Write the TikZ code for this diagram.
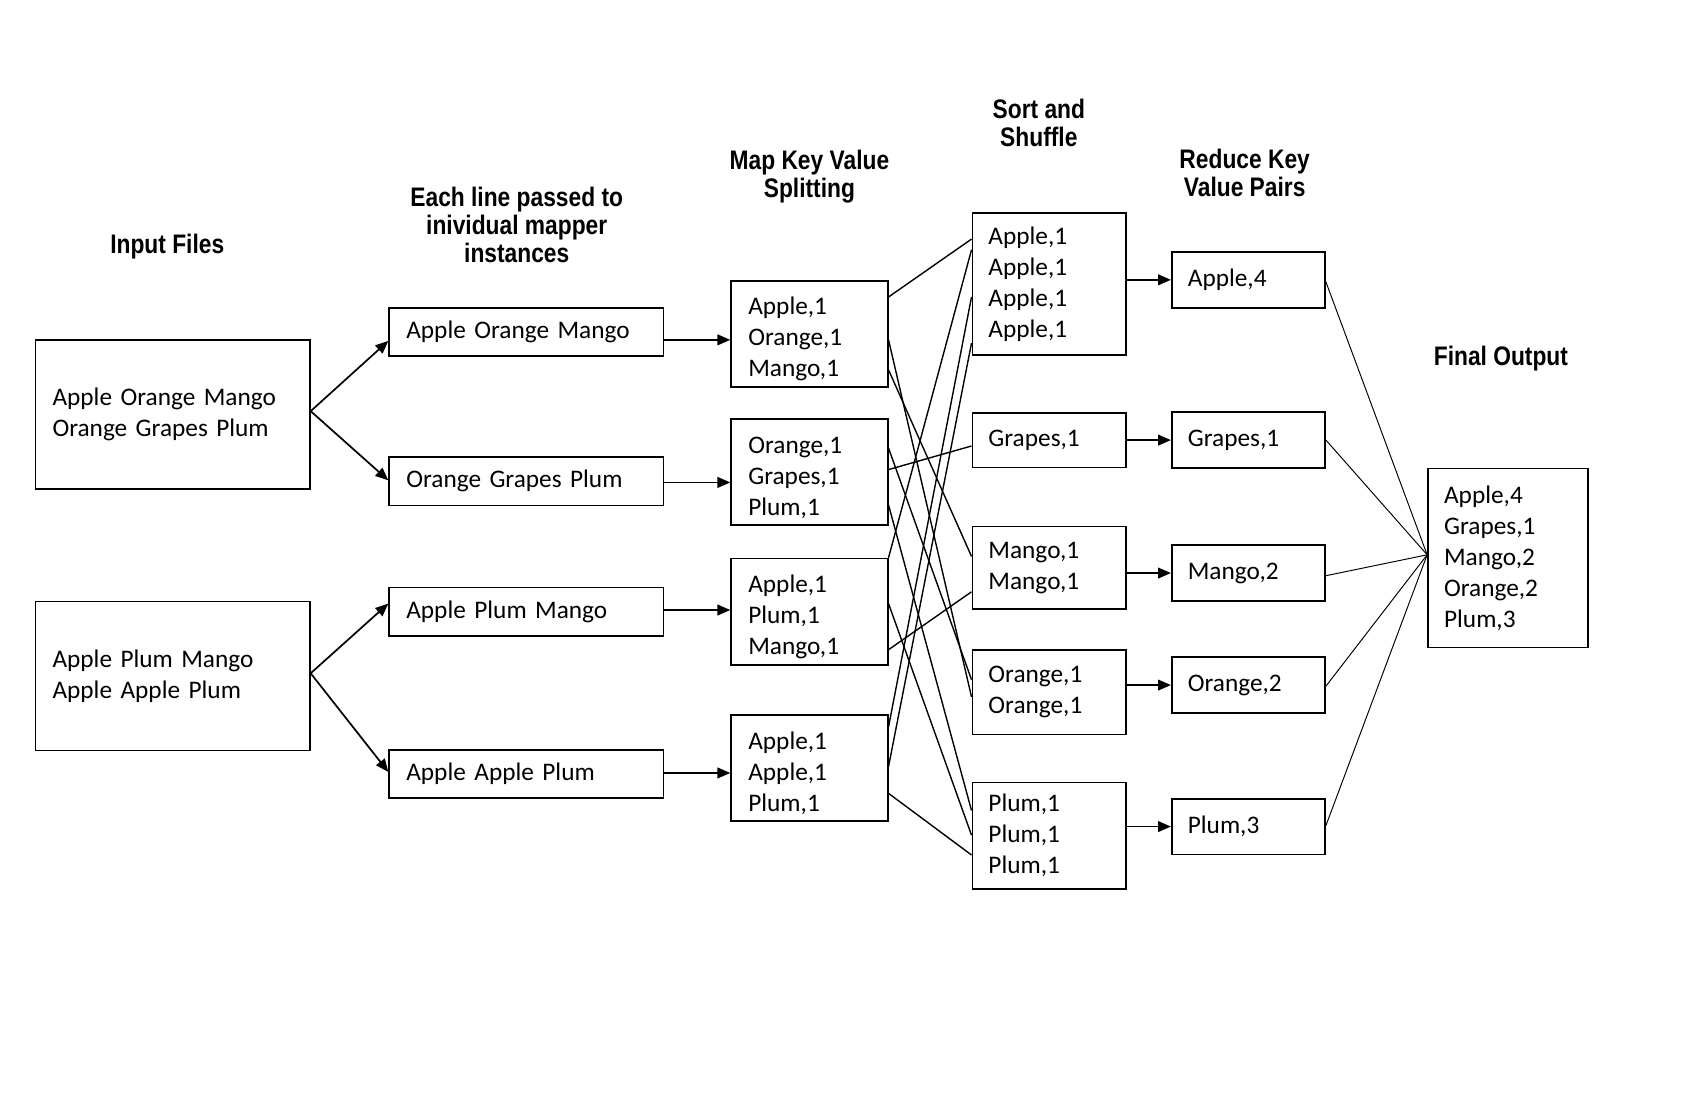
\documentclass[tikz,border=0pt]{standalone}
\usepackage{fontspec}
\setmainfont{Carlito}
\newfontfamily\titlefont{Liberation Sans}[FakeStretch=0.85]
\usetikzlibrary{arrows.meta,calc}
\begin{document}
\begin{tikzpicture}[x=0.5pt,y=-0.5pt,
  box/.style={draw,line width=0.8pt,inner xsep=8pt,inner ysep=0pt,align=left,
    font=\fontsize{11.8}{14.5}\selectfont},
  inbox/.style={box,minimum width=128pt,text width=112pt,minimum height=69.5pt},
  mbox/.style={box,minimum width=128pt,text width=112pt,minimum height=22.5pt},
  kbox/.style={box,minimum width=73pt,text width=57pt,minimum height=49.5pt},
  sbox/.style={box,inner xsep=7.5pt,minimum width=71.5pt,text width=56.5pt,minimum height=#1},
  rbox/.style={box,inner xsep=7.5pt,minimum width=71.5pt,text width=56.5pt,minimum height=26pt},
  fbox/.style={box,inner xsep=7.5pt,minimum width=74.5pt,text width=59.5pt,minimum height=83.5pt},
  ttl/.style={align=center,inner sep=0pt,font=\titlefont\bfseries\fontsize{12.5}{13}\selectfont},
  arr/.style={line width=0.8pt,-{Triangle[length=6pt,width=5pt]}},
  shuf/.style={line width=0.65pt},
  fline/.style={line width=0.45pt}
]
\useasboundingbox (0,0) rectangle (1568,1030);

% titles
\node[ttl] (t1) at (156,230) {Input Files};
\node[ttl] (t2) at (482,210) {Each line passed to\\inividual mapper\\instances};
\node[ttl] (t3) at (755,165) {Map Key Value\\Splitting};
\node[ttl] (t4) at (969,115) {Sort and\\Shuffle};
\node[ttl] (t5) at (1161,161) {Reduce Key\\Value Pairs};
\node[ttl] (t6) at (1400,334) {Final Output};

% input files
\node[inbox] (in1) at (161,386.5) {Apple Orange Mango\\Orange Grapes Plum};
\node[inbox] (in2) at (161,630.5) {Apple Plum Mango\\Apple Apple Plum};

% mapper lines
\node[mbox] (m1) at (491,309.5) {Apple Orange Mango};
\node[mbox] (m2) at (491,449) {Orange Grapes Plum};
\node[mbox] (m3) at (491,570.5) {Apple Plum Mango};
\node[mbox] (m4) at (491,722) {Apple Apple Plum};

% map key value
\node[kbox] (k1) at (755,311.5) {\rule{0pt}{13pt}Apple,1\\Orange,1\\Mango,1};
\node[kbox] (k2) at (755,440.5) {\rule{0pt}{13pt}Orange,1\\Grapes,1\\Plum,1};
\node[kbox] (k3) at (755,570.5) {\rule{0pt}{13pt}Apple,1\\Plum,1\\Mango,1};
\node[kbox] (k4) at (755,716.5) {\rule{0pt}{13pt}Apple,1\\Apple,1\\Plum,1};

% sort and shuffle
\node[sbox=66pt] (s1) at (978.5,265) {Apple,1\\Apple,1\\Apple,1\\Apple,1};
\node[sbox=25.5pt] (s2) at (978.5,410.5) {Grapes,1};
\node[sbox=38.5pt] (s3) at (978.5,529.5) {Mango,1\\Mango,1};
\node[sbox=39.5pt] (s4) at (978.5,645.5) {Orange,1\\Orange,1};
\node[sbox=49.5pt] (s5) at (978.5,779.5) {Plum,1\\Plum,1\\Plum,1};

% reduce
\node[rbox] (r1) at (1164.5,261) {Apple,4};
\node[rbox] (r2) at (1164.5,410.5) {Grapes,1};
\node[rbox] (r3) at (1164.5,534.5) {Mango,2};
\node[rbox] (r4) at (1164.5,639) {Orange,2};
\node[rbox] (r5) at (1164.5,771) {Plum,3};

% final output
\node[fbox] (fo) at (1406.5,520.5) {Apple,4\\Grapes,1\\Mango,2\\Orange,2\\Plum,3};

% input -> mapper
\draw[arr] ($(in1.east)+(0,-3)$) -- ($(m1.west)+(0,8.5)$);
\draw[arr] ($(in1.east)+(0,-3)$) -- ($(m2.west)+(0,-1)$);
\draw[arr] ($(in2.east)+(0,-2.5)$) -- ($(m3.west)+(0,-7.5)$);
\draw[arr] ($(in2.east)+(0,-2.5)$) -- ($(m4.west)+(0,-2)$);

% mapper -> map
\draw[arr] ($(m1.east)+(0,7.5)$) -- ($(k1.west)+(0,5.5)$);
\draw[arr] ($(m2.east)+(0,1)$) -- ($(k2.west)+(0,9.5)$);
\draw[arr] ($(m3.east)+(0,-1.5)$) -- ($(k3.west)+(0,-1.5)$);
\draw[arr] ($(m4.east)+(0,-1)$) -- ($(k4.west)+(0,4.5)$);

% shuffle lines
\draw[shuf] ($(k1.east)+(0,-34.5)$) -- ($(s1.west)+(0,-42)$);
\draw[shuf] ($(k1.east)+(0,5.5)$) -- ($(s4.west)+(0,4.5)$);
\draw[shuf] ($(k1.east)+(0,33.5)$) -- ($(s3.west)+(0,-10.5)$);
\draw[shuf] ($(k2.east)+(0,-22.5)$) -- ($(s4.west)+(0,-11.5)$);
\draw[shuf] ($(k2.east)+(0,-2.5)$) -- ($(s2.west)+(0,5.5)$);
\draw[shuf] ($(k2.east)+(0,30.5)$) -- ($(s5.west)+(0,-23.5)$);
\draw[shuf] (k3.north east) -- ($(s1.west)+(0,-32)$);
\draw[shuf] ($(k3.east)+(0,-7.5)$) -- ($(s5.west)+(0,-0.5)$);
\draw[shuf] ($(k3.east)+(0,35.5)$) -- ($(s3.west)+(0,22.5)$);
\draw[shuf] ($(k4.east)+(0,-38.5)$) -- ($(s1.west)+(0,12)$);
\draw[shuf] ($(k4.east)+(0,-1.5)$) -- ($(s1.west)+(0,55)$);
\draw[shuf] ($(k4.east)+(0,23.5)$) -- ($(s5.west)+(0,18)$);

% shuffle -> reduce
\draw[arr] (s1.east |- r1.west) -- (r1.west);
\draw[arr] (s2.east |- r2.west) -- (r2.west);
\draw[arr] (s3.east |- r3.west) -- (r3.west);
\draw[arr] (s4.east |- r4.west) -- (r4.west);
\draw[arr] (s5.east |- r5.west) -- (r5.west);

% reduce -> final
\draw[fline] ($(r1.east)+(0,2)$) -- ($(fo.west)+(0,-3)$);
\draw[fline] ($(r2.east)+(0,0)$) -- ($(fo.west)+(0,-3)$);
\draw[fline] ($(r3.east)+(0,2.5)$) -- ($(fo.west)+(0,-3)$);
\draw[fline] ($(r4.east)+(0,1)$) -- ($(fo.west)+(0,-3)$);
\draw[fline] ($(r5.east)+(0,-1)$) -- ($(fo.west)+(0,-3)$);
\end{tikzpicture}
\end{document}
